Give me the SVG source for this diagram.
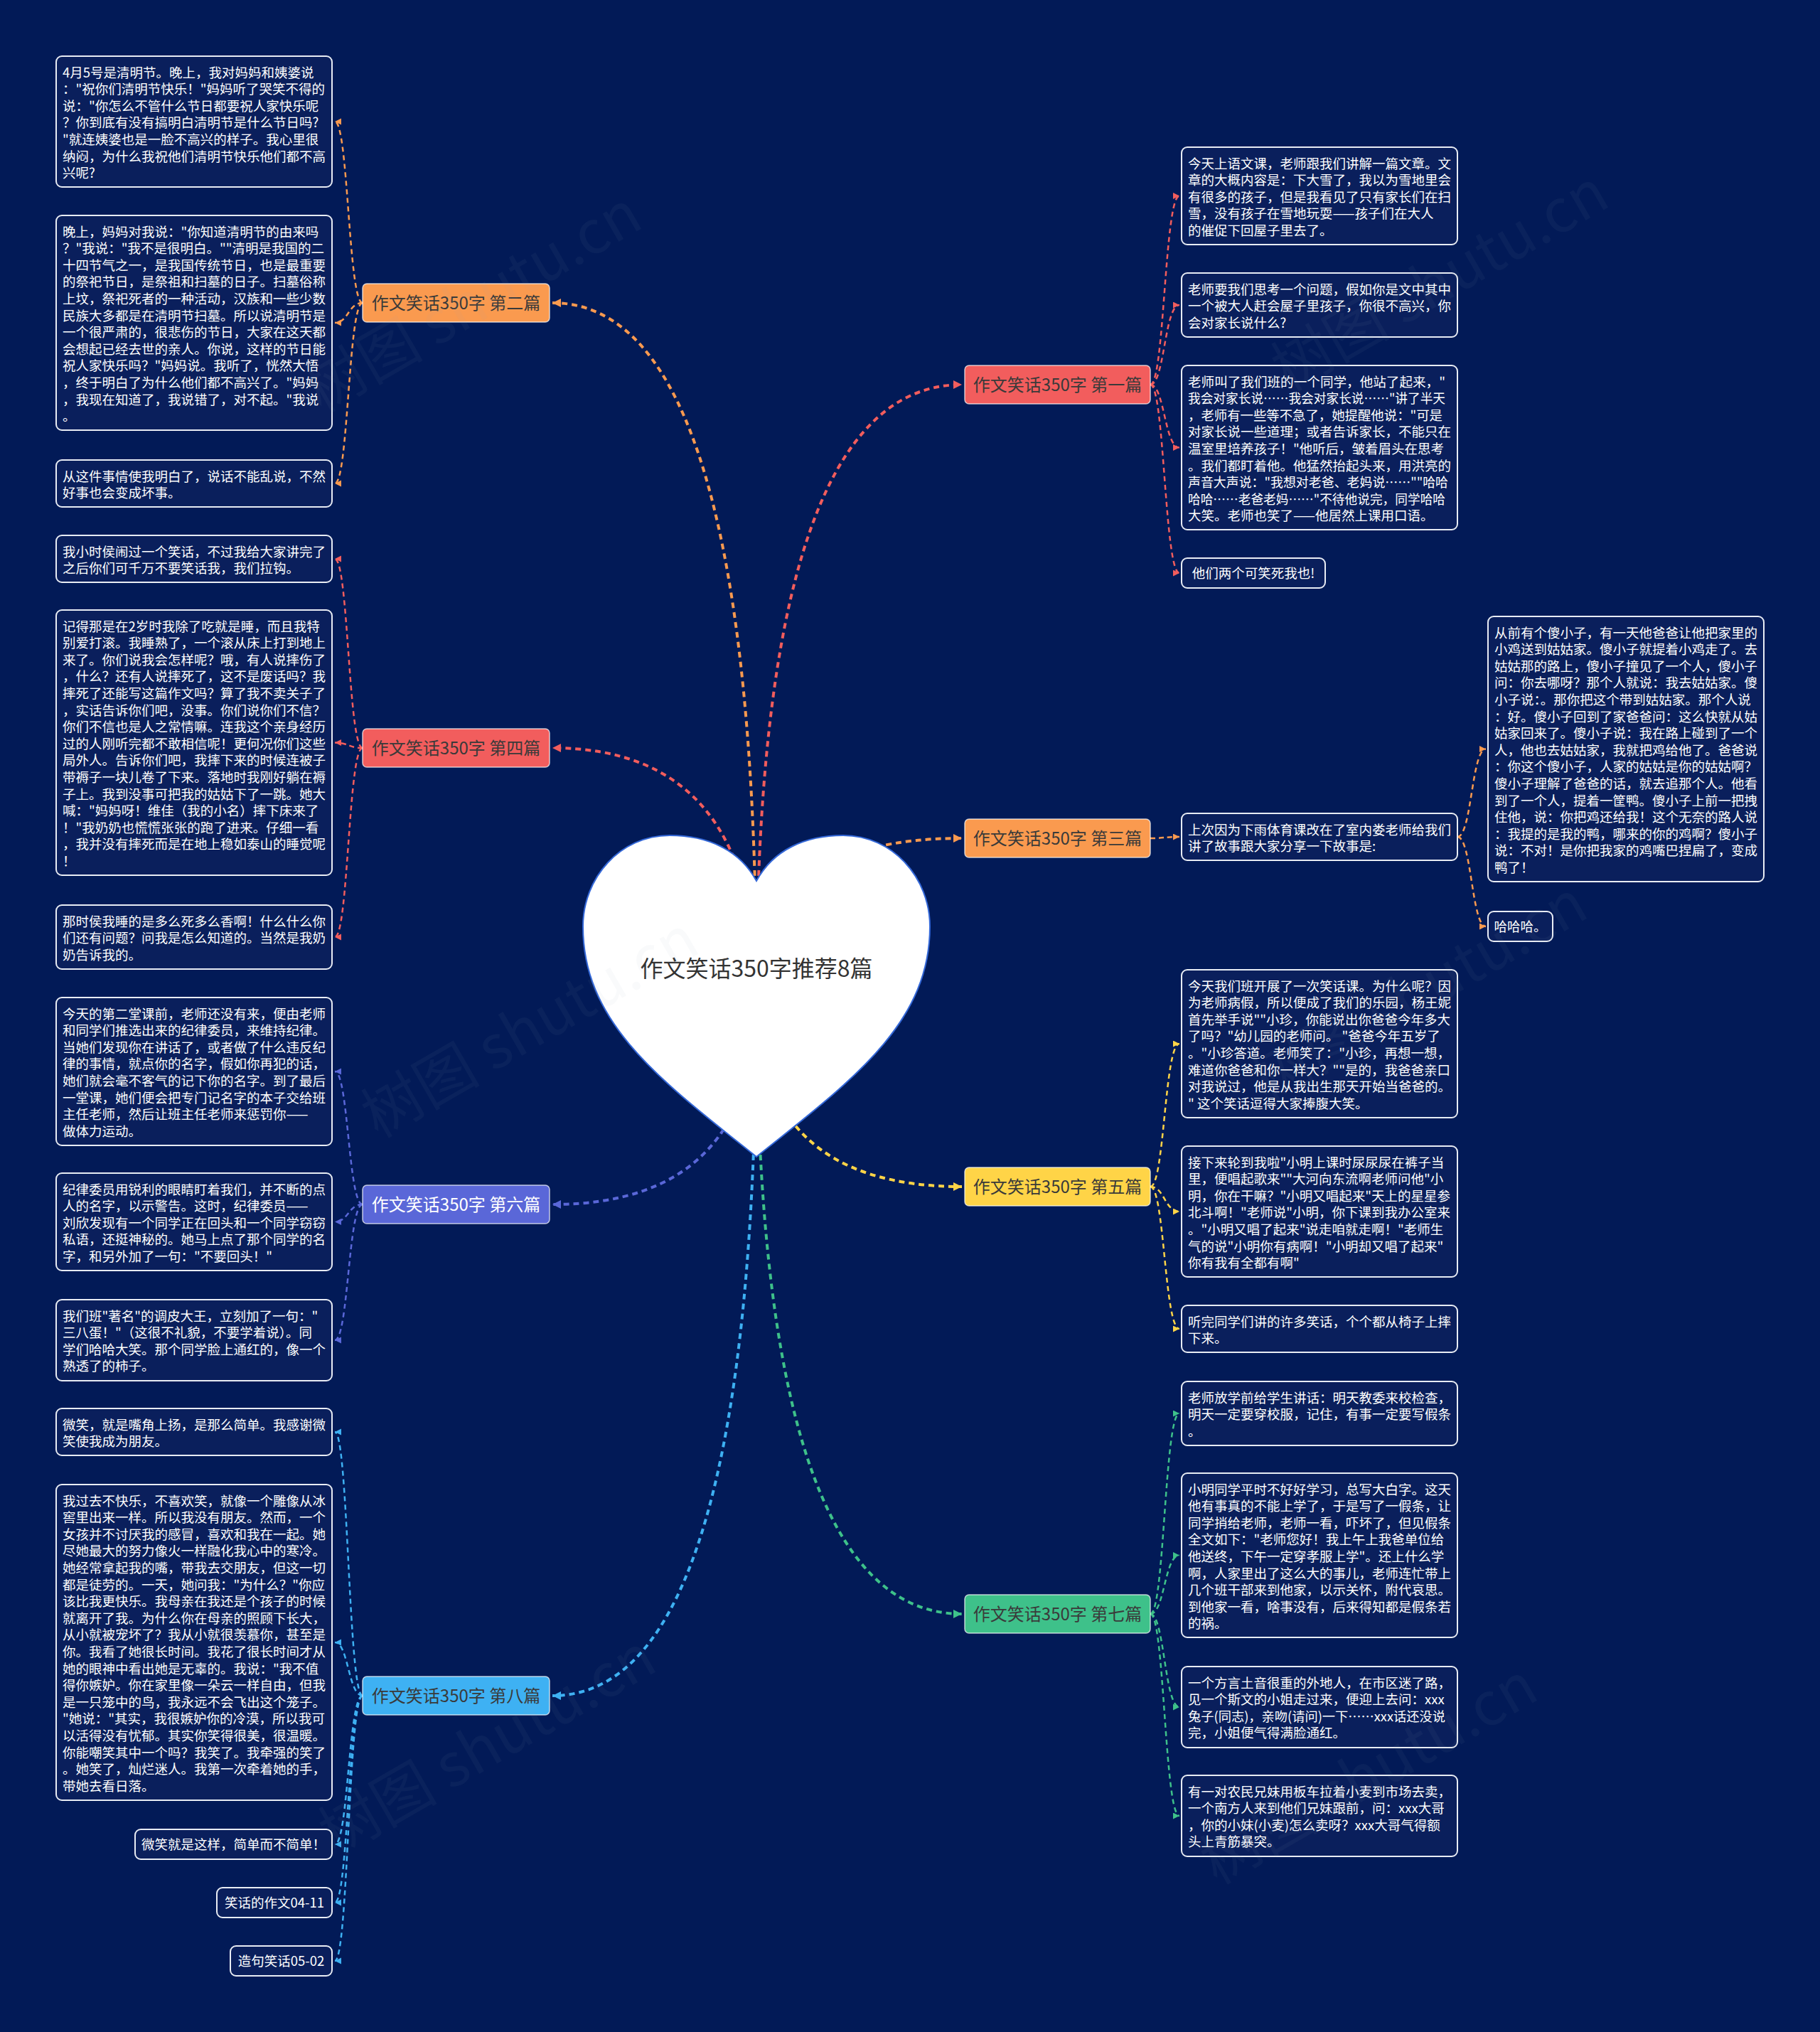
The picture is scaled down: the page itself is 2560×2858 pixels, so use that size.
<svg xmlns="http://www.w3.org/2000/svg" width="2560" height="2858" viewBox="0 0 2560 2858">
<style>
.t{font-family:"Noto Sans CJK SC","Noto Sans",sans-serif;font-size:18.5px;fill:#ffffff}
.n{font-family:"Noto Sans CJK SC","Noto Sans",sans-serif;font-size:24px;fill:#3a3a3a}
.leaf{fill:#0a1f5c;stroke:#e8ecf4;stroke-width:2}
.nd{stroke:#ffffff;stroke-opacity:0.7;stroke-width:1.5}
.m{fill:none;stroke-width:4;stroke-dasharray:8 6}
.s{fill:none;stroke-width:2.5;stroke-dasharray:7 5}
.wm{font-family:"Noto Sans CJK SC","Noto Sans",sans-serif;font-size:84px;fill:#9aa3b8;fill-opacity:0.06}
</style>
<defs>
<marker id="aO" markerUnits="userSpaceOnUse" markerWidth="13" markerHeight="13" refX="12" refY="6" orient="auto"><path d="M0,0 L12,6 L0,12 Z" fill="#FA9A4F"/></marker>
<marker id="aR" markerUnits="userSpaceOnUse" markerWidth="13" markerHeight="13" refX="12" refY="6" orient="auto"><path d="M0,0 L12,6 L0,12 Z" fill="#F25D5D"/></marker>
<marker id="aB" markerUnits="userSpaceOnUse" markerWidth="13" markerHeight="13" refX="12" refY="6" orient="auto"><path d="M0,0 L12,6 L0,12 Z" fill="#5A67D8"/></marker>
<marker id="aL" markerUnits="userSpaceOnUse" markerWidth="13" markerHeight="13" refX="12" refY="6" orient="auto"><path d="M0,0 L12,6 L0,12 Z" fill="#3EB1F3"/></marker>
<marker id="aY" markerUnits="userSpaceOnUse" markerWidth="13" markerHeight="13" refX="12" refY="6" orient="auto"><path d="M0,0 L12,6 L0,12 Z" fill="#FFD447"/></marker>
<marker id="aG" markerUnits="userSpaceOnUse" markerWidth="13" markerHeight="13" refX="12" refY="6" orient="auto"><path d="M0,0 L12,6 L0,12 Z" fill="#3EC18A"/></marker>
<marker id="sO" markerUnits="userSpaceOnUse" markerWidth="10" markerHeight="10" refX="9" refY="4.5" orient="auto"><path d="M0,0 L9,4.5 L0,9 Z" fill="#FA9A4F"/></marker>
<marker id="sR" markerUnits="userSpaceOnUse" markerWidth="10" markerHeight="10" refX="9" refY="4.5" orient="auto"><path d="M0,0 L9,4.5 L0,9 Z" fill="#F25D5D"/></marker>
<marker id="sB" markerUnits="userSpaceOnUse" markerWidth="10" markerHeight="10" refX="9" refY="4.5" orient="auto"><path d="M0,0 L9,4.5 L0,9 Z" fill="#5A67D8"/></marker>
<marker id="sL" markerUnits="userSpaceOnUse" markerWidth="10" markerHeight="10" refX="9" refY="4.5" orient="auto"><path d="M0,0 L9,4.5 L0,9 Z" fill="#3EB1F3"/></marker>
<marker id="sY" markerUnits="userSpaceOnUse" markerWidth="10" markerHeight="10" refX="9" refY="4.5" orient="auto"><path d="M0,0 L9,4.5 L0,9 Z" fill="#FFD447"/></marker>
<marker id="sG" markerUnits="userSpaceOnUse" markerWidth="10" markerHeight="10" refX="9" refY="4.5" orient="auto"><path d="M0,0 L9,4.5 L0,9 Z" fill="#3EC18A"/></marker>
</defs>
<rect x="0" y="0" width="2560" height="2858" fill="#021a57"/>

<g id="connectors">
<path class="m" stroke="#FA9A4F" marker-end="url(#aO)" d="M1064 1400 Q1064 426 777 426"/>
<path class="m" stroke="#F25D5D" marker-end="url(#aR)" d="M1064 1400 Q1064 1052 777 1052"/>
<path class="m" stroke="#5A67D8" marker-end="url(#aB)" d="M1064 1400 Q1064 1694 777 1694"/>
<path class="m" stroke="#3EB1F3" marker-end="url(#aL)" d="M1064 1400 Q1064 2385 777 2385"/>
<path class="m" stroke="#F25D5D" marker-end="url(#aR)" d="M1064 1400 Q1064 541 1353 541"/>
<path class="m" stroke="#FA9A4F" marker-end="url(#aO)" d="M1064 1400 Q1064 1179 1353 1179"/>
<path class="m" stroke="#FFD447" marker-end="url(#aY)" d="M1064 1400 Q1064 1669 1353 1669"/>
<path class="m" stroke="#3EC18A" marker-end="url(#aG)" d="M1064 1400 Q1064 2270 1353 2270"/>

<path class="s" stroke="#FA9A4F" marker-end="url(#sO)" d="M510 426 C490 426 490 171 471 171"/>
<path class="s" stroke="#FA9A4F" marker-end="url(#sO)" d="M510 426 C490 426 490 454 471 454"/>
<path class="s" stroke="#FA9A4F" marker-end="url(#sO)" d="M510 426 C490 426 490 680 471 680"/>

<path class="s" stroke="#F25D5D" marker-end="url(#sR)" d="M510 1052 C490 1052 490 786 471 786"/>
<path class="s" stroke="#F25D5D" marker-end="url(#sR)" d="M510 1052 C490 1052 490 1044.5 471 1044.5"/>
<path class="s" stroke="#F25D5D" marker-end="url(#sR)" d="M510 1052 C490 1052 490 1318 471 1318"/>

<path class="s" stroke="#5A67D8" marker-end="url(#sB)" d="M510 1694 C490 1694 490 1507 471 1507"/>
<path class="s" stroke="#5A67D8" marker-end="url(#sB)" d="M510 1694 C490 1694 490 1718.5 471 1718.5"/>
<path class="s" stroke="#5A67D8" marker-end="url(#sB)" d="M510 1694 C490 1694 490 1885 471 1885"/>

<path class="s" stroke="#3EB1F3" marker-end="url(#sL)" d="M510 2385 C490 2385 490 2014 471 2014"/>
<path class="s" stroke="#3EB1F3" marker-end="url(#sL)" d="M510 2385 C490 2385 490 2310 471 2310"/>
<path class="s" stroke="#3EB1F3" marker-end="url(#sL)" d="M510 2385 C490 2385 490 2594 471 2594"/>
<path class="s" stroke="#3EB1F3" marker-end="url(#sL)" d="M510 2385 C490 2385 490 2676 471 2676"/>
<path class="s" stroke="#3EB1F3" marker-end="url(#sL)" d="M510 2385 C490 2385 490 2758 471 2758"/>

<path class="s" stroke="#F25D5D" marker-end="url(#sR)" d="M1618 541 C1638 541 1638 275.5 1659 275.5"/>
<path class="s" stroke="#F25D5D" marker-end="url(#sR)" d="M1618 541 C1638 541 1638 429 1659 429"/>
<path class="s" stroke="#F25D5D" marker-end="url(#sR)" d="M1618 541 C1638 541 1638 629.5 1659 629.5"/>
<path class="s" stroke="#F25D5D" marker-end="url(#sR)" d="M1618 541 C1638 541 1638 806 1659 806"/>

<path class="s" stroke="#FA9A4F" marker-end="url(#sO)" d="M1618 1179 C1638 1179 1638 1177 1659 1177"/>
<path class="s" stroke="#FA9A4F" marker-end="url(#sO)" d="M2050 1177 C2070 1177 2070 1053.5 2090 1053.5"/>
<path class="s" stroke="#FA9A4F" marker-end="url(#sO)" d="M2050 1177 C2070 1177 2070 1303 2090 1303"/>

<path class="s" stroke="#FFD447" marker-end="url(#sY)" d="M1618 1669 C1638 1669 1638 1468 1659 1468"/>
<path class="s" stroke="#FFD447" marker-end="url(#sY)" d="M1618 1669 C1638 1669 1638 1704 1659 1704"/>
<path class="s" stroke="#FFD447" marker-end="url(#sY)" d="M1618 1669 C1638 1669 1638 1869 1659 1869"/>

<path class="s" stroke="#3EC18A" marker-end="url(#sG)" d="M1618 2270 C1638 2270 1638 1988 1659 1988"/>
<path class="s" stroke="#3EC18A" marker-end="url(#sG)" d="M1618 2270 C1638 2270 1638 2187.5 1659 2187.5"/>
<path class="s" stroke="#3EC18A" marker-end="url(#sG)" d="M1618 2270 C1638 2270 1638 2401 1659 2401"/>
<path class="s" stroke="#3EC18A" marker-end="url(#sG)" d="M1618 2270 C1638 2270 1638 2554 1659 2554"/>
</g>

<g id="root">
<path d="M1064 1239 C1040 1195 995 1175 942 1175 C872 1175 820 1235 820 1303 C820 1440 930 1520 1064 1627 C1198 1520 1308 1440 1308 1303 C1308 1235 1256 1175 1186 1175 C1133 1175 1088 1195 1064 1239 Z" fill="#ffffff" stroke="#3468d8" stroke-width="2"/>
<text x="1064" y="1374" text-anchor="middle" font-family="'Noto Sans CJK SC','Noto Sans',sans-serif" font-size="32" fill="#333333">作文笑话350字推荐8篇</text>
</g>

<g id="b2"><rect class="nd" x="510" y="399" width="263" height="54" rx="6" fill="#FA9A4F"/><text class="n" x="641.5" y="434.5" text-anchor="middle">作文笑话350字 第二篇</text></g>
<g id="b4"><rect class="nd" x="510" y="1025" width="263" height="54" rx="6" fill="#F25D5D"/><text class="n" x="641.5" y="1060.5" text-anchor="middle">作文笑话350字 第四篇</text></g>
<g id="b6"><rect class="nd" x="510" y="1667" width="263" height="54" rx="6" fill="#5A67D8"/><text class="n" x="641.5" y="1702.5" text-anchor="middle" style="fill:#ffffff">作文笑话350字 第六篇</text></g>
<g id="b8"><rect class="nd" x="510" y="2358" width="263" height="54" rx="6" fill="#3EB1F3"/><text class="n" x="641.5" y="2393.5" text-anchor="middle">作文笑话350字 第八篇</text></g>
<g id="b1"><rect class="nd" x="1357" y="514" width="261" height="54" rx="6" fill="#F25D5D"/><text class="n" x="1487.5" y="549.5" text-anchor="middle">作文笑话350字 第一篇</text></g>
<g id="b3"><rect class="nd" x="1357" y="1152" width="261" height="54" rx="6" fill="#FA9A4F"/><text class="n" x="1487.5" y="1187.5" text-anchor="middle">作文笑话350字 第三篇</text></g>
<g id="b5"><rect class="nd" x="1357" y="1642" width="261" height="54" rx="6" fill="#FFD447"/><text class="n" x="1487.5" y="1677.5" text-anchor="middle">作文笑话350字 第五篇</text></g>
<g id="b7"><rect class="nd" x="1357" y="2243" width="261" height="54" rx="6" fill="#3EC18A"/><text class="n" x="1487.5" y="2278.5" text-anchor="middle">作文笑话350字 第七篇</text></g>

<g id="L1"><rect class="leaf" x="79" y="79" width="388" height="184" rx="8"/><text class="t">
<tspan x="88" y="108.5">4月5号是清明节。晚上，我对妈妈和姨婆说</tspan>
<tspan x="88" y="132.1">："祝你们清明节快乐！"妈妈听了哭笑不得的</tspan>
<tspan x="88" y="155.7">说："你怎么不管什么节日都要祝人家快乐呢</tspan>
<tspan x="88" y="179.3">？你到底有没有搞明白清明节是什么节日吗?</tspan>
<tspan x="88" y="202.9">"就连姨婆也是一脸不高兴的样子。我心里很</tspan>
<tspan x="88" y="226.5">纳闷，为什么我祝他们清明节快乐他们都不高</tspan>
<tspan x="88" y="250.1">兴呢?</tspan></text></g>

<g id="L2"><rect class="leaf" x="79" y="303" width="388" height="302" rx="8"/><text class="t">
<tspan x="88" y="332.5">晚上，妈妈对我说："你知道清明节的由来吗</tspan>
<tspan x="88" y="356.1">？"我说："我不是很明白。""清明是我国的二</tspan>
<tspan x="88" y="379.7">十四节气之一，是我国传统节日，也是最重要</tspan>
<tspan x="88" y="403.3">的祭祀节日，是祭祖和扫墓的日子。扫墓俗称</tspan>
<tspan x="88" y="426.9">上坟，祭祀死者的一种活动，汉族和一些少数</tspan>
<tspan x="88" y="450.5">民族大多都是在清明节扫墓。所以说清明节是</tspan>
<tspan x="88" y="474.1">一个很严肃的，很悲伤的节日，大家在这天都</tspan>
<tspan x="88" y="497.7">会想起已经去世的亲人。你说，这样的节日能</tspan>
<tspan x="88" y="521.3">祝人家快乐吗？"妈妈说。我听了，恍然大悟</tspan>
<tspan x="88" y="544.9">，终于明白了为什么他们都不高兴了。"妈妈</tspan>
<tspan x="88" y="568.5">，我现在知道了，我说错了，对不起。"我说</tspan>
<tspan x="88" y="592.1">。</tspan></text></g>

<g id="L3"><rect class="leaf" x="79" y="647" width="388" height="66" rx="8"/><text class="t">
<tspan x="88" y="676.5">从这件事情使我明白了，说话不能乱说，不然</tspan>
<tspan x="88" y="700.1">好事也会变成坏事。</tspan></text></g>

<g id="L4"><rect class="leaf" x="79" y="753" width="388" height="66" rx="8"/><text class="t">
<tspan x="88" y="782.5">我小时侯闹过一个笑话，不过我给大家讲完了</tspan>
<tspan x="88" y="806.1">之后你们可千万不要笑话我，我们拉钩。</tspan></text></g>

<g id="L5"><rect class="leaf" x="79" y="858" width="388" height="373" rx="8"/><text class="t">
<tspan x="88" y="887.5">记得那是在2岁时我除了吃就是睡，而且我特</tspan>
<tspan x="88" y="911.1">别爱打滚。我睡熟了，一个滚从床上打到地上</tspan>
<tspan x="88" y="934.7">来了。你们说我会怎样呢？哦，有人说摔伤了</tspan>
<tspan x="88" y="958.3">，什么？还有人说摔死了，这不是废话吗？我</tspan>
<tspan x="88" y="981.9">摔死了还能写这篇作文吗？算了我不卖关子了</tspan>
<tspan x="88" y="1005.5">，实话告诉你们吧，没事。你们说你们不信？</tspan>
<tspan x="88" y="1029.1">你们不信也是人之常情嘛。连我这个亲身经历</tspan>
<tspan x="88" y="1052.7">过的人刚听完都不敢相信呢！更何况你们这些</tspan>
<tspan x="88" y="1076.3">局外人。告诉你们吧，我摔下来的时候连被子</tspan>
<tspan x="88" y="1099.9">带褥子一块儿卷了下来。落地时我刚好躺在褥</tspan>
<tspan x="88" y="1123.5">子上。我到没事可把我的姑姑下了一跳。她大</tspan>
<tspan x="88" y="1147.1">喊："妈妈呀！维佳（我的小名）摔下床来了</tspan>
<tspan x="88" y="1170.7">！"我奶奶也慌慌张张的跑了进来。仔细一看</tspan>
<tspan x="88" y="1194.3">，我并没有摔死而是在地上稳如泰山的睡觉呢</tspan>
<tspan x="88" y="1217.9">！</tspan></text></g>

<g id="L6"><rect class="leaf" x="79" y="1273" width="388" height="90" rx="8"/><text class="t">
<tspan x="88" y="1302.5">那时侯我睡的是多么死多么香啊！什么什么你</tspan>
<tspan x="88" y="1326.1">们还有问题？问我是怎么知道的。当然是我奶</tspan>
<tspan x="88" y="1349.7">奶告诉我的。</tspan></text></g>

<g id="L7"><rect class="leaf" x="79" y="1403" width="388" height="208" rx="8"/><text class="t">
<tspan x="88" y="1432.5">今天的第二堂课前，老师还没有来，便由老师</tspan>
<tspan x="88" y="1456.1">和同学们推选出来的纪律委员，来维持纪律。</tspan>
<tspan x="88" y="1479.7">当她们发现你在讲话了，或者做了什么违反纪</tspan>
<tspan x="88" y="1503.3">律的事情，就点你的名字，假如你再犯的话，</tspan>
<tspan x="88" y="1526.9">她们就会毫不客气的记下你的名字。到了最后</tspan>
<tspan x="88" y="1550.5">一堂课，她们便会把专门记名字的本子交给班</tspan>
<tspan x="88" y="1574.1">主任老师，然后让班主任老师来惩罚你——</tspan>
<tspan x="88" y="1597.7">做体力运动。</tspan></text></g>

<g id="L8"><rect class="leaf" x="79" y="1650" width="388" height="137" rx="8"/><text class="t">
<tspan x="88" y="1679.5">纪律委员用锐利的眼睛盯着我们，并不断的点</tspan>
<tspan x="88" y="1703.1">人的名字，以示警告。这时，纪律委员——</tspan>
<tspan x="88" y="1726.7">刘欣发现有一个同学正在回头和一个同学窃窃</tspan>
<tspan x="88" y="1750.3">私语，还挺神秘的。她马上点了那个同学的名</tspan>
<tspan x="88" y="1773.9">字，和另外加了一句："不要回头！"</tspan></text></g>

<g id="L9"><rect class="leaf" x="79" y="1828" width="388" height="114" rx="8"/><text class="t">
<tspan x="88" y="1857.5">我们班"著名"的调皮大王，立刻加了一句："</tspan>
<tspan x="88" y="1881.1">三八蛋！"（这很不礼貌，不要学着说）。同</tspan>
<tspan x="88" y="1904.7">学们哈哈大笑。那个同学脸上通红的，像一个</tspan>
<tspan x="88" y="1928.3">熟透了的柿子。</tspan></text></g>

<g id="L10"><rect class="leaf" x="79" y="1981" width="388" height="66" rx="8"/><text class="t">
<tspan x="88" y="2010.5">微笑，就是嘴角上扬，是那么简单。我感谢微</tspan>
<tspan x="88" y="2034.1">笑使我成为朋友。</tspan></text></g>

<g id="L11"><rect class="leaf" x="79" y="2088" width="388" height="444" rx="8"/><text class="t">
<tspan x="88" y="2117.5">我过去不快乐，不喜欢笑，就像一个雕像从冰</tspan>
<tspan x="88" y="2141.1">窖里出来一样。所以我没有朋友。然而，一个</tspan>
<tspan x="88" y="2164.7">女孩并不讨厌我的感冒，喜欢和我在一起。她</tspan>
<tspan x="88" y="2188.3">尽她最大的努力像火一样融化我心中的寒冷。</tspan>
<tspan x="88" y="2211.9">她经常拿起我的嘴，带我去交朋友，但这一切</tspan>
<tspan x="88" y="2235.5">都是徒劳的。一天，她问我："为什么？"你应</tspan>
<tspan x="88" y="2259.1">该比我更快乐。我母亲在我还是个孩子的时候</tspan>
<tspan x="88" y="2282.7">就离开了我。为什么你在母亲的照顾下长大，</tspan>
<tspan x="88" y="2306.3">从小就被宠坏了？我从小就很羡慕你，甚至是</tspan>
<tspan x="88" y="2329.9">你。我看了她很长时间。我花了很长时间才从</tspan>
<tspan x="88" y="2353.5">她的眼神中看出她是无辜的。我说："我不值</tspan>
<tspan x="88" y="2377.1">得你嫉妒。你在家里像一朵云一样自由，但我</tspan>
<tspan x="88" y="2400.7">是一只笼中的鸟，我永远不会飞出这个笼子。</tspan>
<tspan x="88" y="2424.3">"她说："其实，我很嫉妒你的冷漠，所以我可</tspan>
<tspan x="88" y="2447.9">以活得没有忧郁。其实你笑得很美，很温暖。</tspan>
<tspan x="88" y="2471.5">你能嘲笑其中一个吗？我笑了。我牵强的笑了</tspan>
<tspan x="88" y="2495.1">。她笑了，灿烂迷人。我第一次牵着她的手，</tspan>
<tspan x="88" y="2518.7">带她去看日落。</tspan></text></g>

<g id="L12"><rect class="leaf" x="190" y="2573" width="277" height="42" rx="8"/><text class="t" x="328.5" y="2600.5" text-anchor="middle">微笑就是这样，简单而不简单！</text></g>
<g id="L13"><rect class="leaf" x="305" y="2655" width="162" height="42" rx="8"/><text class="t" x="386" y="2682.5" text-anchor="middle">笑话的作文04-11</text></g>
<g id="L14"><rect class="leaf" x="324" y="2737" width="143" height="42" rx="8"/><text class="t" x="395.5" y="2764.5" text-anchor="middle">造句笑话05-02</text></g>

<g id="R1"><rect class="leaf" x="1662" y="207" width="388" height="137" rx="8"/><text class="t">
<tspan x="1671" y="236.5">今天上语文课，老师跟我们讲解一篇文章。文</tspan>
<tspan x="1671" y="260.1">章的大概内容是：下大雪了，我以为雪地里会</tspan>
<tspan x="1671" y="283.7">有很多的孩子，但是我看见了只有家长们在扫</tspan>
<tspan x="1671" y="307.3">雪，没有孩子在雪地玩耍——孩子们在大人</tspan>
<tspan x="1671" y="330.9">的催促下回屋子里去了。</tspan></text></g>

<g id="R2"><rect class="leaf" x="1662" y="384" width="388" height="90" rx="8"/><text class="t">
<tspan x="1671" y="413.5">老师要我们思考一个问题，假如你是文中其中</tspan>
<tspan x="1671" y="437.1">一个被大人赶会屋子里孩子，你很不高兴，你</tspan>
<tspan x="1671" y="460.7">会对家长说什么?</tspan></text></g>

<g id="R3"><rect class="leaf" x="1662" y="514" width="388" height="231" rx="8"/><text class="t">
<tspan x="1671" y="543.5" textLength="362" lengthAdjust="spacingAndGlyphs">老师叫了我们班的一个同学，他站了起来，"</tspan>
<tspan x="1671" y="567.1" textLength="362" lengthAdjust="spacingAndGlyphs">我会对家长说……我会对家长说……"讲了半天</tspan>
<tspan x="1671" y="590.7" textLength="358" lengthAdjust="spacingAndGlyphs">，老师有一些等不急了，她提醒他说："可是</tspan>
<tspan x="1671" y="614.3">对家长说一些道理；或者告诉家长，不能只在</tspan>
<tspan x="1671" y="637.9" textLength="360" lengthAdjust="spacingAndGlyphs">温室里培养孩子！"他听后，皱着眉头在思考</tspan>
<tspan x="1671" y="661.5">。我们都盯着他。他猛然抬起头来，用洪亮的</tspan>
<tspan x="1671" y="685.1" textLength="366" lengthAdjust="spacingAndGlyphs">声音大声说："我想对老爸、老妈说……""哈哈</tspan>
<tspan x="1671" y="708.7" textLength="362" lengthAdjust="spacingAndGlyphs">哈哈……老爸老妈……"不待他说完，同学哈哈</tspan>
<tspan x="1671" y="732.3">大笑。老师也笑了——他居然上课用口语。</tspan></text></g>

<g id="R4"><rect class="leaf" x="1662" y="785" width="202" height="42" rx="8"/><text class="t" x="1763" y="812.5" text-anchor="middle">他们两个可笑死我也!</text></g>

<g id="R5b"><rect class="leaf" x="1662" y="1144" width="388" height="66" rx="8"/><text class="t">
<tspan x="1671" y="1173.5">上次因为下雨体育课改在了室内娄老师给我们</tspan>
<tspan x="1671" y="1197.1">讲了故事跟大家分享一下故事是:</tspan></text></g>

<g id="R5"><rect class="leaf" x="2093" y="867" width="388" height="373" rx="8"/><text class="t">
<tspan x="2102" y="896.5">从前有个傻小子，有一天他爸爸让他把家里的</tspan>
<tspan x="2102" y="920.1">小鸡送到姑姑家。傻小子就提着小鸡走了。去</tspan>
<tspan x="2102" y="943.7">姑姑那的路上，傻小子撞见了一个人，傻小子</tspan>
<tspan x="2102" y="967.3">问：你去哪呀？那个人就说：我去姑姑家。傻</tspan>
<tspan x="2102" y="990.9">小子说：。那你把这个带到姑姑家。那个人说</tspan>
<tspan x="2102" y="1014.5">：好。傻小子回到了家爸爸问：这么快就从姑</tspan>
<tspan x="2102" y="1038.1">姑家回来了。傻小子说：我在路上碰到了一个</tspan>
<tspan x="2102" y="1061.7">人，他也去姑姑家，我就把鸡给他了。爸爸说</tspan>
<tspan x="2102" y="1085.3">：你这个傻小子，人家的姑姑是你的姑姑啊？</tspan>
<tspan x="2102" y="1108.9">傻小子理解了爸爸的话，就去追那个人。他看</tspan>
<tspan x="2102" y="1132.5">到了一个人，提着一筐鸭。傻小子上前一把拽</tspan>
<tspan x="2102" y="1156.1">住他，说：你把鸡还给我！这个无奈的路人说</tspan>
<tspan x="2102" y="1179.7">：我提的是我的鸭，哪来的你的鸡啊？傻小子</tspan>
<tspan x="2102" y="1203.3">说：不对！是你把我家的鸡嘴巴捏扁了，变成</tspan>
<tspan x="2102" y="1226.9">鸭了！</tspan></text></g>

<g id="R6"><rect class="leaf" x="2093" y="1282" width="91" height="42" rx="8"/><text class="t" x="2138.5" y="1309.5" text-anchor="middle">哈哈哈。</text></g>

<g id="R7"><rect class="leaf" x="1662" y="1364" width="388" height="208" rx="8"/><text class="t">
<tspan x="1671" y="1393.5">今天我们班开展了一次笑话课。为什么呢？因</tspan>
<tspan x="1671" y="1417.1">为老师病假，所以便成了我们的乐园，杨王妮</tspan>
<tspan x="1671" y="1440.7">首先举手说""小珍，你能说出你爸爸今年多大</tspan>
<tspan x="1671" y="1464.3">了吗？"幼儿园的老师问。 "爸爸今年五岁了</tspan>
<tspan x="1671" y="1487.9">。"小珍答道。老师笑了："小珍，再想一想，</tspan>
<tspan x="1671" y="1511.5">难道你爸爸和你一样大？""是的，我爸爸亲口</tspan>
<tspan x="1671" y="1535.1">对我说过，他是从我出生那天开始当爸爸的。</tspan>
<tspan x="1671" y="1558.7">" 这个笑话逗得大家捧腹大笑。</tspan></text></g>

<g id="R8"><rect class="leaf" x="1662" y="1612" width="388" height="184" rx="8"/><text class="t">
<tspan x="1671" y="1641.5">接下来轮到我啦"小明上课时尿尿尿在裤子当</tspan>
<tspan x="1671" y="1665.1">里，便唱起歌来""大河向东流啊老师问他"小</tspan>
<tspan x="1671" y="1688.7">明，你在干嘛？"小明又唱起来"天上的星星参</tspan>
<tspan x="1671" y="1712.3">北斗啊！"老师说"小明，你下课到我办公室来</tspan>
<tspan x="1671" y="1735.9">。"小明又唱了起来"说走咱就走啊！"老师生</tspan>
<tspan x="1671" y="1759.5">气的说"小明你有病啊！"小明却又唱了起来"</tspan>
<tspan x="1671" y="1783.1">你有我有全都有啊"</tspan></text></g>

<g id="R9"><rect class="leaf" x="1662" y="1836" width="388" height="66" rx="8"/><text class="t">
<tspan x="1671" y="1865.5">听完同学们讲的许多笑话，个个都从椅子上摔</tspan>
<tspan x="1671" y="1889.1">下来。</tspan></text></g>

<g id="R10"><rect class="leaf" x="1662" y="1943" width="388" height="90" rx="8"/><text class="t">
<tspan x="1671" y="1972.5">老师放学前给学生讲话：明天教委来校检查，</tspan>
<tspan x="1671" y="1996.1">明天一定要穿校服，记住，有事一定要写假条</tspan>
<tspan x="1671" y="2019.7">。</tspan></text></g>

<g id="R11"><rect class="leaf" x="1662" y="2072" width="388" height="231" rx="8"/><text class="t">
<tspan x="1671" y="2101.5">小明同学平时不好好学习，总写大白字。这天</tspan>
<tspan x="1671" y="2125.1">他有事真的不能上学了，于是写了一假条，让</tspan>
<tspan x="1671" y="2148.7">同学捎给老师，老师一看，吓坏了，但见假条</tspan>
<tspan x="1671" y="2172.3">全文如下："老师您好！我上午上我爸单位给</tspan>
<tspan x="1671" y="2195.9">他送终，下午一定穿孝服上学"。还上什么学</tspan>
<tspan x="1671" y="2219.5">啊，人家里出了这么大的事儿，老师连忙带上</tspan>
<tspan x="1671" y="2243.1">几个班干部来到他家，以示关怀，附代哀思。</tspan>
<tspan x="1671" y="2266.7">到他家一看，啥事没有，后来得知都是假条若</tspan>
<tspan x="1671" y="2290.3">的祸。</tspan></text></g>

<g id="R12"><rect class="leaf" x="1662" y="2344" width="388" height="114" rx="8"/><text class="t">
<tspan x="1671" y="2373.5">一个方言土音很重的外地人，在市区迷了路，</tspan>
<tspan x="1671" y="2397.1">见一个斯文的小姐走过来，便迎上去问：xxx</tspan>
<tspan x="1671" y="2420.7" textLength="362" lengthAdjust="spacingAndGlyphs">兔子(同志)，亲吻(请问)一下……xxx话还没说</tspan>
<tspan x="1671" y="2444.3">完，小姐便气得满脸通红。</tspan></text></g>

<g id="R13"><rect class="leaf" x="1662" y="2497" width="388" height="114" rx="8"/><text class="t">
<tspan x="1671" y="2526.5">有一对农民兄妹用板车拉着小麦到市场去卖，</tspan>
<tspan x="1671" y="2550.1">一个南方人来到他们兄妹跟前，问：xxx大哥</tspan>
<tspan x="1671" y="2573.7">，你的小妹(小麦)怎么卖呀？xxx大哥气得额</tspan>
<tspan x="1671" y="2597.3">头上青筋暴突。</tspan></text></g>

<g id="watermarks">
<text class="wm" transform="translate(680 450) rotate(-30)" text-anchor="middle">树图 shutu.cn</text>
<text class="wm" transform="translate(760 1470) rotate(-30)" text-anchor="middle">树图 shutu.cn</text>
<text class="wm" transform="translate(700 2480) rotate(-30)" text-anchor="middle">树图 shutu.cn</text>
<text class="wm" transform="translate(2040 420) rotate(-30)" text-anchor="middle">树图 shutu.cn</text>
<text class="wm" transform="translate(2010 1420) rotate(-30)" text-anchor="middle">树图 shutu.cn</text>
<text class="wm" transform="translate(1940 2520) rotate(-30)" text-anchor="middle">树图 shutu.cn</text>
</g>
</svg>
